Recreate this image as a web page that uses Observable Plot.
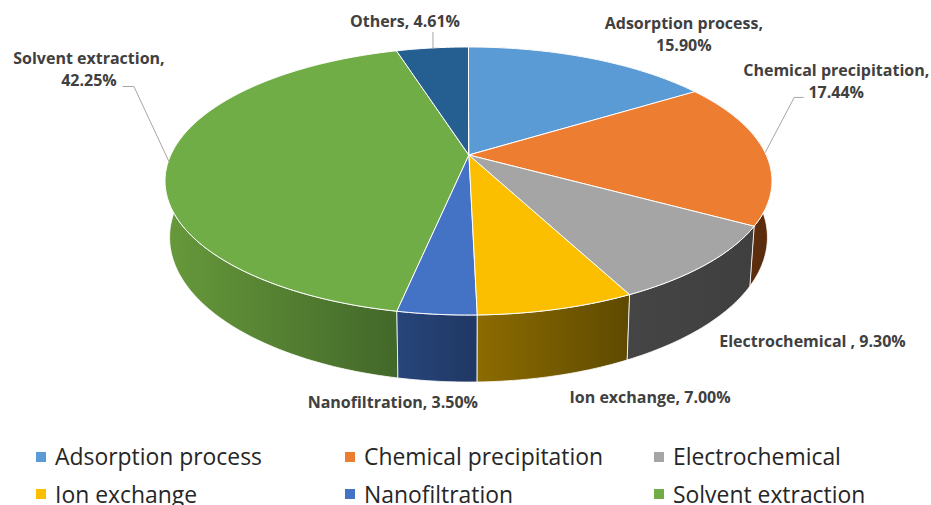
<!DOCTYPE html>
<html>
<head>
<meta charset="utf-8">
<script src="https://cdn.jsdelivr.net/npm/d3@7"></script>
<script src="https://cdn.jsdelivr.net/npm/@observablehq/plot@0.6"></script>
<style>
  html, body { margin: 0; padding: 0; background: #fff; overflow: hidden; height: 505px; }
  #legend { display: grid; grid-template-columns: repeat(3, 309px); margin-left: 36px; margin-top: 3px;
            font: 22.9px "Open Sans", sans-serif; color: #262626; }
  .item { display: flex; align-items: center; height: 37.5px; white-space: nowrap; }
  .swatch { width: 10px; height: 10px; margin-right: 9px; flex: none; }
</style>
</head>
<body>
<div id="chart"></div>
<div id="legend"></div>
<script>
// Share of each recovery method, in percent, clockwise from twelve o'clock.
const methods = ["Adsorption process", "Chemical precipitation", "Electrochemical", "Ion exchange", "Nanofiltration", "Solvent extraction", "Others"];
const shares = [15.90, 17.44, 9.30, 7.00, 3.50, 42.25, 4.61];
const labelTexts = ["Adsorption process,\n15.90%", "Chemical precipitation,\n17.44%", "Electrochemical , 9.30%", "Ion exchange, 7.00%", "Nanofiltration, 3.50%", "Solvent extraction,\n42.25%", "Others, 4.61%"];

// Styling kept apart from the values.
const topColors = ["#5b9bd5", "#ed7d31", "#a5a5a5", "#fcbf00", "#4472c4", "#70ad47", "#255e91"];
const wallStops = [["#37607f", "#2f5070"], ["#633210", "#5a2c0e"], ["#454545", "#3f3f3f"], ["#8c6b00", "#5e4a00"], ["#27457a", "#203864"], ["#67993b", "#426829"], ["#163a5a", "#163a5a"]];

// Label placement, relative to the rim point at the middle of each slice.
const labelOffsets = [[93, -26], [71, -72], [106, 75], [93, 86], [-44, 86], [-80, -94], [-28, -28]];
const leaderBends = [[], [[29, -55], [38, -55]], [], [], [], [[-35, -75], [-46, -75]], [[0, -16]]];

const W = 931, H = 435;

// Perspective view of the tilted disc: far side shrinks, near side grows.
const cx = 468.5, apexY = 155, radiusX = 297.7, radiusY = 98.9, tilt = 0.194;
function rim(deg) {
  const a = deg * Math.PI / 180, w = 1 + tilt * Math.cos(a);
  return { x: cx + radiusX * Math.sin(a) / w, y: (apexY - radiusY * Math.cos(a)) / w };
}
// Lower edge of the disc's wall for the same angle.
function lower(p) {
  return { x: cx + (p.x - cx) * 0.985, y: p.y + 60 + (p.y - 227) * 0.08 };
}

let running = 0;
const slices = methods.map((name, i) => {
  const start = running * 3.6;
  running += shares[i];
  const end = running * 3.6;
  const steps = Math.max(8, Math.ceil(end - start));
  const pts = d3.range(steps + 1).map(k => {
    const p = rim(start + (end - start) * k / steps);
    const q = lower(p);
    return { name, x: p.x, y: p.y, xLow: q.x, yLow: q.y, xApex: cx, yApex: apexY };
  });
  return { name, i, start, end, mid: rim((start + end) / 2), pts };
});

const gradientDefs = () => {
  const defs = d3.create("svg:defs");
  wallStops.forEach((stops, i) => {
    const g = defs.append("linearGradient").attr("id", `wall${i}`);
    g.append("stop").attr("offset", "0%").attr("stop-color", stops[0]);
    g.append("stop").attr("offset", "100%").attr("stop-color", stops[1]);
  });
  return defs.node();
};

const labels = slices.map(s => ({
  text: labelTexts[s.i],
  x: s.mid.x + labelOffsets[s.i][0],
  y: s.mid.y + labelOffsets[s.i][1]
}));
const leaders = slices.filter(s => leaderBends[s.i].length).map(s => [
  { x: s.mid.x, y: s.mid.y, name: s.name },
  ...leaderBends[s.i].map(([dx, dy]) => ({ x: s.mid.x + dx, y: s.mid.y + dy, name: s.name }))
]).flat();

const wallOrder = [6, 0, 1, 2, 3, 4, 5];

const chart = Plot.plot({
  width: W, height: H,
  margin: 0,
  style: { background: "transparent" },
  x: { domain: [0, W], range: [0, W], axis: null },
  y: { domain: [0, H], range: [0, H], axis: null },
  marks: [
    gradientDefs,
    // Side walls, drawn first so the top faces cover the far part.
    ...wallOrder.map(i => Plot.area(slices[i].pts, {
      x1: "x", y1: "y", x2: "xLow", y2: "yLow",
      fill: `url(#wall${i})`, stroke: "#fff", strokeWidth: 0.8, curve: "linear"
    })),
    // Top faces: each slice fans from its rim to the apex.
    ...slices.map(s => Plot.area(s.pts, {
      x1: "x", y1: "y", x2: "xApex", y2: "yApex",
      fill: topColors[s.i], stroke: "#fff", strokeWidth: 1, curve: "linear"
    })),
    Plot.line(leaders, { x: "x", y: "y", z: "name", stroke: "#a6a6a6", strokeWidth: 1 }),
    Plot.text(labels, {
      x: "x", y: "y", text: "text",
      fontFamily: "'Open Sans', sans-serif", fontWeight: 700, fontSize: 16,
      lineHeight: 1.375, fill: "#404040", textAnchor: "middle"
    })
  ]
});
document.getElementById("chart").appendChild(chart);
chart.style.display = "block";

// Legend rows under the chart; the last entry falls below the fold.
const legend = d3.select("#legend");
methods.slice(0, 6).forEach((name, i) => {
  const item = legend.append("div").attr("class", "item");
  item.append("span").attr("class", "swatch").style("background", topColors[i]);
  item.append("span").text(name);
});
</script>
</body>
</html>
